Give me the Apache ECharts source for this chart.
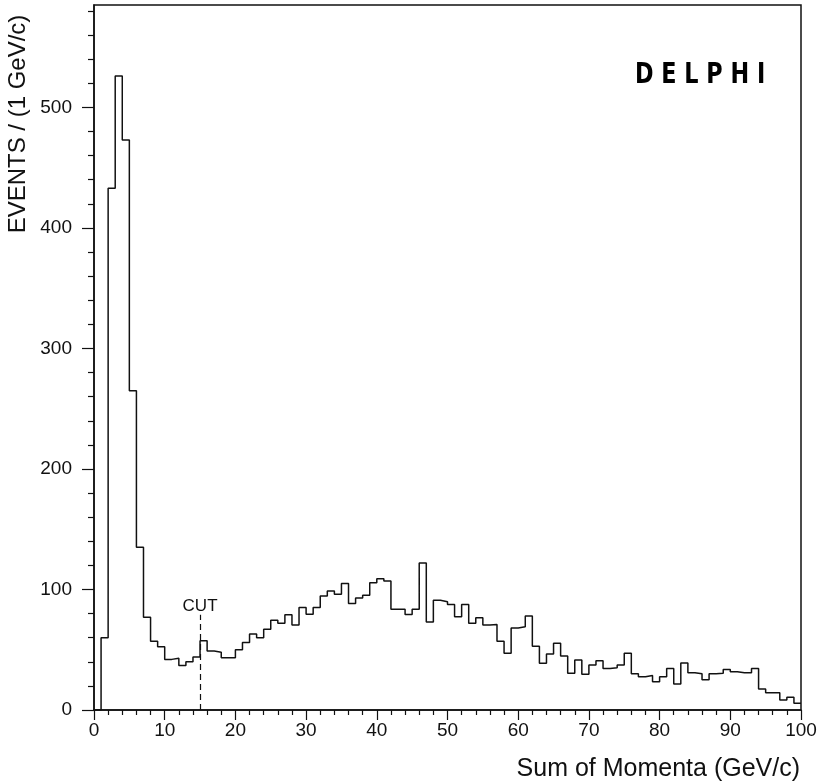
<!DOCTYPE html>
<html>
<head>
<meta charset="utf-8">
<script src="https://cdn.jsdelivr.net/npm/echarts@6/dist/echarts.min.js"></script>
<style>
  html, body { margin: 0; padding: 0; background: #fff; }
  #chart { width: 822px; height: 781px; }
</style>
</head>
<body>
<div id="chart"></div>
<script>
// Events per 1 GeV/c bin, bins [0,1), [1,2), ... [99,100)
const counts = [
  0, 60, 433, 526, 473, 265, 135, 77, 57, 52.5,
  42, 43, 37, 40, 44, 57.5, 49, 48, 43.4, 43.4,
  50, 56, 63, 60, 67, 74.5, 72, 79, 70.5, 85,
  79.5, 85, 94.5, 98.7, 96, 105, 88.4, 93, 95.3, 105.5,
  109, 107, 83.5, 83.5, 79.3, 83.5, 122, 73, 91, 89.8,
  87.5, 77.4, 87.6, 72, 76.6, 70.5, 71, 57, 47, 68,
  69, 78, 53, 38.7, 46.4, 55.3, 44.8, 30.4, 41.5, 29.6,
  37.3, 40.9, 34.5, 35, 37.3, 47, 30, 27.6, 28.7, 23.5,
  27.6, 34.5, 21.6, 39, 31, 30, 25, 30, 30.4, 33.7,
  31.8, 31, 31, 34.5, 17.4, 14.4, 14.4, 8.3, 10.5, 5.5
];
const binWidth = 1;
const xRange = [0, 100];
const yRange = [0, 585];
const yMajorTicks = [0, 100, 200, 300, 400, 500];
const yMinorStep = 20;
const cutValue = 15;
const cutLineTop = 79;
const cutText = 'CUT';
const xTitle = 'Sum of Momenta (GeV/c)';
const yTitle = 'EVENTS / (1 GeV/c)';
const experiment = 'D E L P H I';

// minor y ticks every 20 events, skipping the labelled ones
const yMinorTicks = [];
for (let v = yMinorStep; v <= yRange[1]; v += yMinorStep) {
  if (v % 100 !== 0) yMinorTicks.push(v);
}

// histogram outline: one point per bin left edge, closed at the right edge
const outline = counts.map((v, i) => [i * binWidth, v]);
outline.push([counts.length * binWidth, counts[counts.length - 1]]);

const ink = '#111';
const font = '"Liberation Sans", Arial, sans-serif';

const chart = echarts.init(document.getElementById('chart'), null, { renderer: 'canvas' });
chart.setOption({
  animation: false,
  backgroundColor: '#fff',
  grid: {
    left: 94, right: 21, top: 5, bottom: 71,
    show: true, borderColor: ink, borderWidth: 1.5, backgroundColor: 'transparent'
  },
  xAxis: {
    type: 'value', min: xRange[0], max: xRange[1], interval: 10,
    axisLine: { show: true, lineStyle: { color: ink, width: 1.5 } },
    axisTick: { show: true, length: 10, lineStyle: { color: ink, width: 1.2 } },
    minorTick: { show: true, splitNumber: 5, length: 5, lineStyle: { color: ink, width: 1.2 } },
    axisLabel: { fontSize: 19, color: ink, margin: 11, fontFamily: font },
    splitLine: { show: false }
  },
  yAxis: [
    {
      type: 'value', min: yRange[0], max: yRange[1], position: 'left',
      axisLine: { show: true, lineStyle: { color: ink, width: 1.5 } },
      axisTick: { show: true, customValues: yMajorTicks, length: 12, lineStyle: { color: ink, width: 1.2 } },
      axisLabel: { customValues: yMajorTicks, fontSize: 19, color: ink, margin: 22, fontFamily: font },
      splitLine: { show: false }
    },
    {
      type: 'value', min: yRange[0], max: yRange[1], position: 'left',
      axisLine: { show: false },
      axisTick: { show: true, customValues: yMinorTicks, length: 6, lineStyle: { color: ink, width: 1.2 } },
      axisLabel: { show: false },
      splitLine: { show: false }
    }
  ],
  series: [{
    type: 'line',
    step: 'end',
    data: outline,
    symbol: 'none',
    lineStyle: { color: ink, width: 1.5 },
    markLine: {
      silent: true,
      symbol: ['none', 'none'],
      lineStyle: { color: ink, width: 1.2, type: [6, 4] },
      label: { show: true, position: 'end', formatter: cutText, fontSize: 17, color: ink, fontFamily: font, distance: 0 },
      data: [[{ coord: [cutValue, 0] }, { coord: [cutValue, cutLineTop] }]]
    }
  }],
  graphic: [
    {
      type: 'text', x: 18, y: 124, rotation: Math.PI / 2,
      style: { text: yTitle, font: '24px ' + font, fill: ink, align: 'center', verticalAlign: 'middle' }
    },
    {
      type: 'text', x: 800, y: 769,
      style: { text: xTitle, font: '25px ' + font, fill: ink, align: 'right', verticalAlign: 'middle' }
    },
    {
      type: 'text', x: 635, y: 61, scaleX: 0.77,
      style: { text: experiment, font: 'bold 29px "DejaVu Sans", sans-serif', fill: '#000', align: 'left', verticalAlign: 'top' }
    }
  ]
});
</script>
</body>
</html>
